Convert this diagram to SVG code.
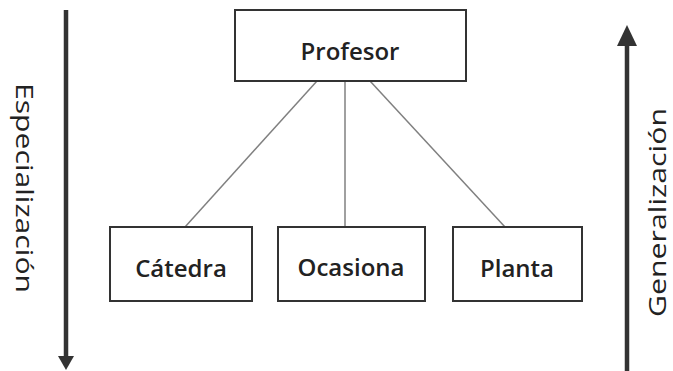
<svg xmlns="http://www.w3.org/2000/svg" width="673" height="371" viewBox="0 0 673 371">
<defs>
<style>
.box{fill:#fff;stroke:#333;stroke-width:2}
.lbl{font-family:"Open Sans","Noto Sans",sans-serif;font-weight:600;font-size:24px;fill:#222;text-anchor:middle}
.side{font-family:"Open Sans","Noto Sans",sans-serif;font-weight:400;font-size:24px;fill:#222}
.conn{stroke:#808080;stroke-width:1.5;fill:none}
.arr{stroke:#333;stroke-width:4.5;fill:none}
</style>
</defs>
<rect width="673" height="371" fill="#fff"/>
<g id="connectors">
<line class="conn" x1="317" y1="81" x2="185" y2="227"/>
<line class="conn" x1="345" y1="81" x2="345" y2="227"/>
<line class="conn" x1="370" y1="81" x2="505" y2="227"/>
</g>
<g id="arrow-especializacion">
<line class="arr" x1="66" y1="10" x2="66" y2="357"/>
<path d="M58,356 L74,356 L66,370 Z" fill="#333"/>
<text class="side" transform="translate(16,83) rotate(90)" textLength="210" lengthAdjust="spacingAndGlyphs">Especialización</text>
</g>
<g id="arrow-generalizacion">
<line class="arr" x1="627" y1="371" x2="627" y2="44"/>
<path d="M617,46 L637,46 L627,25 Z" fill="#333"/>
<text class="side" transform="translate(666,317) rotate(-90)" textLength="209" lengthAdjust="spacingAndGlyphs">Generalización</text>
</g>
<g id="node-profesor">
<rect class="box" x="235" y="10" width="231" height="71"/>
<text class="lbl" x="350" y="60">Profesor</text>
</g>
<g id="node-catedra">
<rect class="box" x="110" y="227" width="142" height="74"/>
<text class="lbl" x="181" y="277">Cátedra</text>
</g>
<g id="node-ocasiona">
<rect class="box" x="278" y="227" width="147" height="74"/>
<text class="lbl" x="351" y="276">Ocasiona</text>
</g>
<g id="node-planta">
<rect class="box" x="453" y="227" width="129" height="74"/>
<text class="lbl" x="517" y="277">Planta</text>
</g>
</svg>
